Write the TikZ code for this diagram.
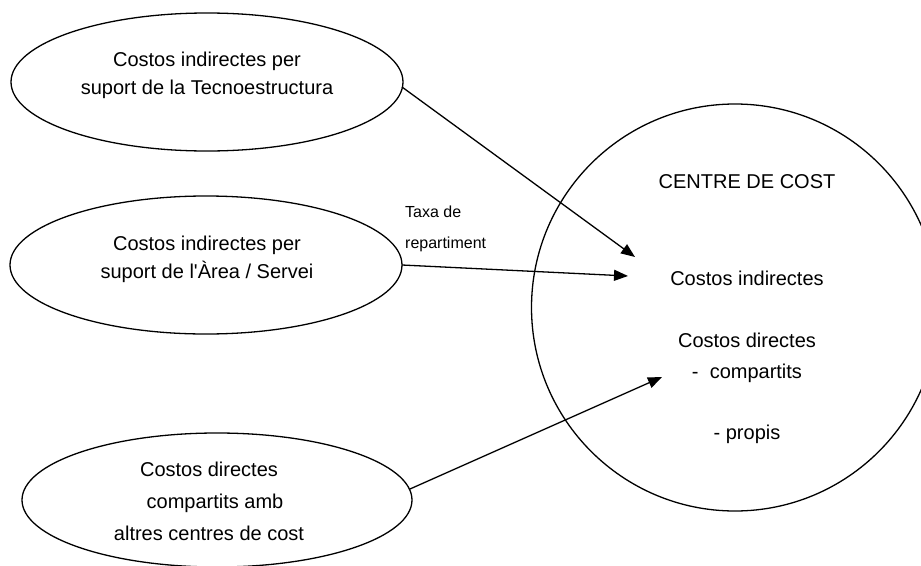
\documentclass[tikz,border=0pt]{standalone}
\usepackage{fontspec}
\setmainfont{Liberation Sans}
\usetikzlibrary{shapes.geometric,arrows.meta}
\begin{document}
\begin{tikzpicture}[x=1pt,y=-1pt,
  outline/.style={draw=black,line width=1.3pt,inner sep=0pt,outer sep=0pt},
  oval/.style={outline,ellipse,minimum width=392pt,minimum height=138pt},
  txt/.style={font=\fontsize{20}{28}\selectfont,align=center,inner sep=0pt},
  small/.style={font=\fontsize{16}{31}\selectfont,align=left,inner sep=0pt},
  conn/.style={line width=1.3pt,-{Triangle[length=14pt,width=11pt]}}]
\useasboundingbox (0,0) rectangle (921,565);
\clip (0,0) rectangle (921,565);
% ovals
\node[oval] (e1) at (207,82) {};
\node[oval] (e2) at (206,265) {};
\node[oval,minimum width=390pt,minimum height=134pt] (e3) at (217,500) {};
\node[outline,circle,minimum size=407pt] (cc) at (735,307.5) {};
% texts
\node[txt] (t1) at (207,75) {Costos indirectes per\\suport de la Tecnoestructura};
\node[txt] (t2) at (207,259) {Costos indirectes per\\suport de l\textquotesingle\`Area / Servei};
\node[txt,font=\fontsize{20}{32}\selectfont] (t3) at (209,501) {Costos directes\\\hspace*{12pt}compartits amb\\altres centres de cost};
\node[small,anchor=west] (lab) at (405,229) {Taxa de\\repartiment};
\node[txt] (c1) at (747,182) {CENTRE DE COST};
\node[txt] (c2) at (747,278) {Costos indirectes};
\node[txt] (c3) at (747,340) {Costos directes};
\node[txt] (c4) at (747,373) {-\ \ compartits};
\node[txt] (c5) at (747,434) {- propis};
% arrow ends
\coordinate (s1) at (402,87);
\coordinate (a1) at (635,257);
\coordinate (a2) at (628,276);
\coordinate (s3) at (410,489);
\coordinate (a3) at (662,377);
\draw[conn] (s1) -- (a1);
\draw[conn] (e2.east) -- (a2);
\draw[conn] (s3) -- (a3);
\end{tikzpicture}
\end{document}
